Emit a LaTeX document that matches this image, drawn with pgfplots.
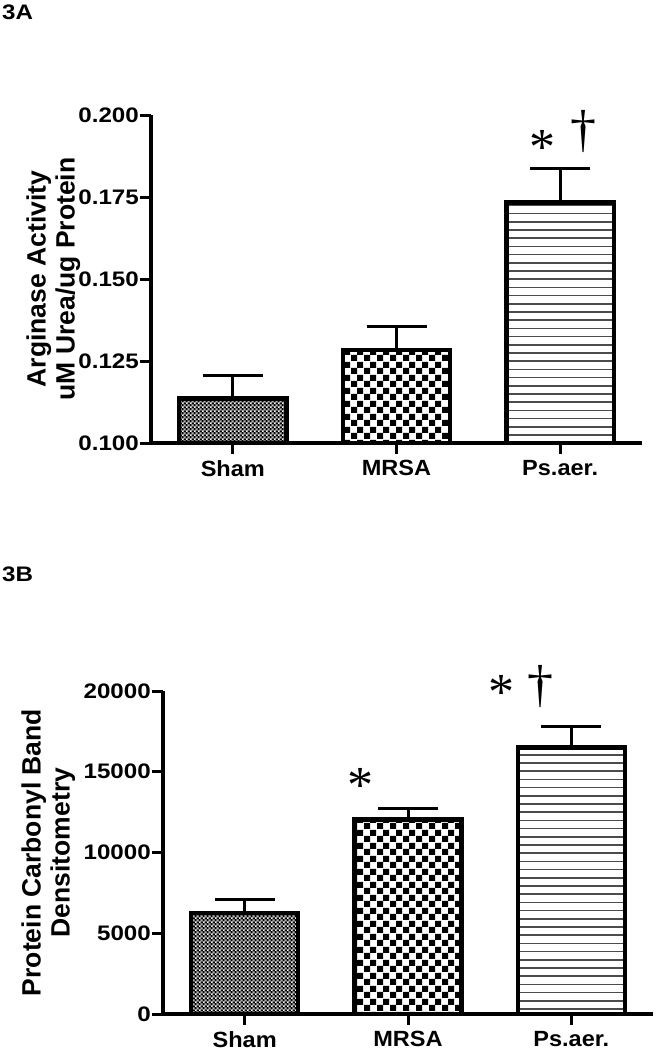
\documentclass[border=0pt]{standalone}
\usepackage{fontspec}
\setmainfont{Liberation Sans}
\newfontfamily\tickf{Liberation Sans}[FakeStretch=1.15]
\newfontfamily\xf{Liberation Sans}[FakeStretch=1.07]
\newfontfamily\serf{Liberation Serif}
\usepackage{pgfplots}
\pgfplotsset{compat=1.18}
\usetikzlibrary{patterns}

\pgfdeclarepatternformonly{finecheck}{\pgfpointorigin}{\pgfqpoint{4.2pt}{4.2pt}}{\pgfqpoint{4.2pt}{4.2pt}}{%
  \pgfseteorule
  \pgfpathrectangle{\pgfpointorigin}{\pgfqpoint{4.2pt}{4.2pt}}%
  \pgfpathrectangle{\pgfqpoint{0.2pt}{0.2pt}}{\pgfqpoint{1.7pt}{1.7pt}}%
  \pgfpathrectangle{\pgfqpoint{2.3pt}{2.3pt}}{\pgfqpoint{1.7pt}{1.7pt}}%
  \pgfusepath{fill}}
\pgfdeclarepatternformonly{coarsecheck}{\pgfpointorigin}{\pgfqpoint{13pt}{13pt}}{\pgfqpoint{13pt}{13pt}}{%
  \pgfpathrectangle{\pgfpointorigin}{\pgfqpoint{6.5pt}{6.5pt}}%
  \pgfpathrectangle{\pgfqpoint{6.5pt}{6.5pt}}{\pgfqpoint{6.5pt}{6.5pt}}%
  \pgfusepath{fill}}
\pgfdeclarepatternformonly{hlinesp}{\pgfqpoint{0pt}{-1pt}}{\pgfqpoint{4pt}{7.2pt}}{\pgfqpoint{4pt}{8.2pt}}{%
  \pgfpathrectangle{\pgfqpoint{0pt}{-0.8pt}}{\pgfqpoint{4pt}{1.6pt}}%
  \pgfusepath{fill}}

\tikzset{ann/.style={font=\serf\fontsize{52}{52}\selectfont, anchor=north, inner sep=0pt}}

\pgfplotsset{
  myax/.style={
    scale only axis,
    axis x line*=bottom, axis y line*=left,
    axis line style={line width=4pt,-},
    xmin=-0.5, xmax=2.5,
    xtick={0,1,2}, xticklabels={Sham,MRSA,Ps.aer.},
    tick align=outside, major tick length=11pt,
    tick style={line width=3pt,black},
    clip=false, scaled y ticks=false,
    xticklabel style={font=\xf\bfseries\fontsize{22}{22}\selectfont, inner sep=0pt, yshift=-6pt},
    yticklabel style={font=\tickf\bfseries\fontsize{21}{21}\selectfont, inner sep=0pt, xshift=-1pt},
    ylabel style={font=\bfseries\fontsize{26.5}{29}\selectfont, align=center, anchor=center},
    ybar, bar width=0.655,
    every axis plot/.append style={draw=black, line width=4.5pt, bar shift=0pt,
      error bars/y dir=plus, error bars/y explicit,
      error bars/error bar style={line width=3pt, black},
      error bars/error mark options={rotate=90, mark size=30pt, line width=3pt, black}},
  },
}

\begin{document}
\begin{tikzpicture}
\path[use as bounding box] (0,0) rectangle (656pt,-1050pt);

\node[anchor=north west, inner sep=0pt, font=\tickf\bfseries\fontsize{21}{21}\selectfont] at (2pt,-5pt) {3A};
\node[anchor=north west, inner sep=0pt, font=\tickf\bfseries\fontsize{21}{21}\selectfont] at (2pt,-567pt) {3B};

% Panel A
\begin{axis}[myax,
  at={(151pt,-443pt)}, anchor=south west,
  width=491pt, height=328pt,
  ymin=0.1, ymax=0.2,
  ytick={0.1,0.125,0.15,0.175,0.2},
  yticklabels={0.100,0.125,0.150,0.175,0.200},
  ylabel={Arginase Activity\\uM Urea/ug Protein},
  ylabel style={at={(axis description cs:-0.199,0.5)}},
]
\addplot[pattern=finecheck, pattern color=black] coordinates {(0,0.1136) +- (0,0.0070)};
\addplot[pattern=coarsecheck, pattern color=black] coordinates {(1,0.1284) +- (0,0.0070)};
\addplot[pattern=hlinesp, pattern color=black!70] coordinates {(2,0.1733) +- (0,0.0104)};
\node[ann] at (axis cs:1.89,0.1954) {*};
\node[ann] at (axis cs:2.14,0.2015) {†};
\end{axis}

% Panel B
\begin{axis}[myax,
  at={(163pt,-1014pt)}, anchor=south west,
  width=490pt, height=323pt,
  ymin=0, ymax=20000,
  ytick={0,5000,10000,15000,20000},
  yticklabels={0,5000,10000,15000,20000},
  ylabel={Protein Carbonyl Band\\Densitometry},
  ylabel style={at={(axis description cs:-0.234,0.5)}},
]
\addplot[pattern=finecheck, pattern color=black] coordinates {(0,6255) +- (0,863)};
\addplot[pattern=coarsecheck, pattern color=black] coordinates {(1,12037) +- (0,696)};
\addplot[pattern=hlinesp, pattern color=black!70] coordinates {(2,16512) +- (0,1272)};
\node[ann] at (axis cs:0.71,15218) {*};
\node[ann] at (axis cs:1.57,21003) {*};
\node[ann] at (axis cs:1.81,21580) {†};
\end{axis}
\end{tikzpicture}
\end{document}
